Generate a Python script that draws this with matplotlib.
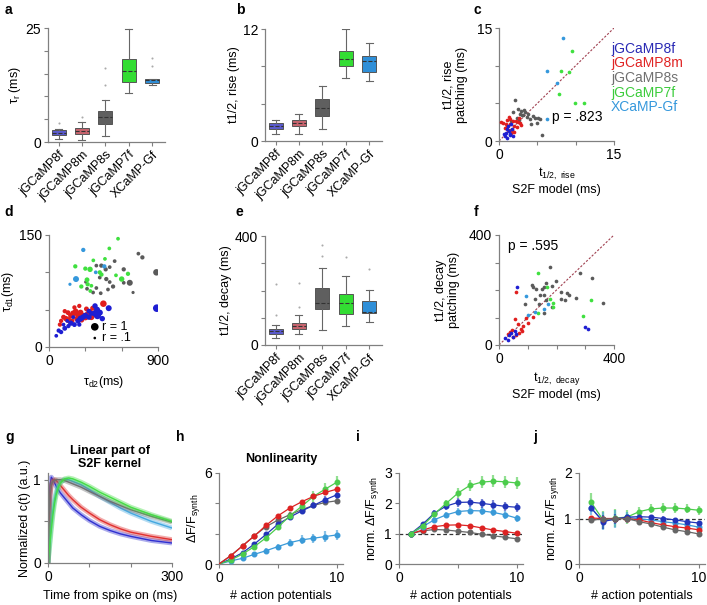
import numpy as np
import matplotlib.pyplot as plt

plt.rcParams['font.family'] = ['Liberation Sans', 'DejaVu Sans']
plt.rcParams['mathtext.fontset'] = 'custom'
plt.rcParams['mathtext.rm'] = 'Liberation Sans'
plt.rcParams['mathtext.it'] = 'Liberation Sans:italic'
plt.rcParams['font.size'] = 8

W, H = 707, 605

# ---------------- data ----------------
sensors = ['jGCaMP8f', 'jGCaMP8m', 'jGCaMP8s', 'jGCaMP7f', 'XCaMP-Gf']
box_colors = ['#5a5acd', '#c8646e', '#5f5f5f', '#33dd33', '#2f8fd8']
text_colors = ['#2a2ab4', '#e02424', '#707070', '#3ccc3c', '#3598dc']
dot_colors = ['#1e1ed2', '#e01e1e', '#5a5a5a', '#3fe03f', '#3598dc']

# a: tau_r (ms)
a_med = [2.0, 2.4, 5.5, 15.6, 13.5]
a_q1 = [1.5, 1.8, 3.9, 13.2, 12.9]
a_q3 = [2.6, 3.1, 6.8, 18.2, 13.8]
a_lo = [0.7, 0.5, 1.25, 10.7, 12.5]
a_hi = [2.9, 4.4, 9.3, 24.8, 13.8]
a_fliers = [[4.2], [5.5], [12.6, 16.2], [], [16.7, 18.4]]

# b: t1/2 rise (ms)
b_med = [1.6, 1.9, 3.55, 8.8, 8.55]
b_q1 = [1.25, 1.6, 2.7, 8.0, 7.4]
b_q3 = [1.9, 2.2, 4.45, 9.6, 9.15]
b_lo = [0.7, 0.7, 1.25, 6.8, 6.4]
b_hi = [2.3, 2.85, 5.9, 12.0, 10.5]
b_fliers = [[], [], [], [], []]

# e: t1/2 decay (ms)
e_med = [50, 70, 153, 153, 122]
e_q1 = [42, 60, 131, 114, 116]
e_q3 = [60, 80, 210, 187, 161]
e_lo = [25, 40, 55, 70, 85]
e_hi = [75, 110, 284, 253, 202]
e_fliers = [[223, 110], [229, 140], [327, 367], [324], [279]]

# c: t1/2 rise, S2F model (x) vs patching (y)
c_x = [
    [0.9, 1.8, 1.2, 1.0, 1.5, 0.8, 1.3, 1.1, 1.7, 1.4, 0.7, 1.6],
    [0.3, 0.5, 1.4, 2.6, 2.9, 2.3, 1.0, 1.2, 1.8, 2.0, 1.5, 0.8, 2.5, 1.1, 1.9, 1.6, 2.2, 1.3, 0.9, 2.7, 1.7],
    [2.05, 2.5, 2.9, 3.4, 3.8, 2.7, 4.0, 4.7, 5.1, 5.3, 4.2, 4.9, 5.65, 1.8, 2.3, 3.6, 3.1, 3.3, 4.4, 2.6, 3.0, 1.6],
    [9.5, 8.1, 9.1, 7.85, 9.9, 11.1],
    [8.4, 6.3, 7.6, 6.2],
]
c_y = [
    [1.1, 0.67, 2.0, 1.56, 0.9, 0.6, 1.3, 0.4, 1.6, 0.8, 0.9, 2.2],
    [2.5, 2.4, 2.9, 3.1, 2.1, 1.8, 2.0, 1.5, 2.6, 1.2, 2.3, 1.7, 2.5, 2.8, 2.0, 1.0, 2.7, 3.2, 2.2, 2.4, 1.4],
    [5.4, 4.2, 4.0, 3.8, 3.6, 3.6, 2.9, 3.0, 3.0, 2.9, 2.2, 2.4, 0.75, 3.8, 3.1, 3.2, 3.4, 4.1, 3.3, 2.8, 3.5, 2.6],
    [11.9, 9.3, 9.2, 6.2, 5.1, 5.0],
    [13.7, 9.3, 7.65, 2.9],
]

# d: tau_d2 (x), tau_d1 (y), r (size)
d_x = [
    [890, 493, 397, 330, 100, 130, 160, 180, 210, 240, 260, 280, 300, 330, 350, 380, 400, 420, 200, 150, 250, 120, 440, 380, 60, 80],
    [449, 391, 309, 157, 180, 200, 220, 240, 260, 280, 300, 320, 340, 120, 140, 160, 190, 230, 270, 100, 360, 350, 210, 250, 130, 90],
    [738, 771, 542, 617, 887, 501, 391, 432, 468, 419, 473, 501, 529, 487, 391, 364, 617, 667, 694, 427, 303, 314],
    [570, 498, 217, 300, 339, 366, 462, 419, 433, 553, 600, 652, 314, 319, 267, 350, 341],
    [283, 223, 173, 457, 386],
]
d_y = [
    [52, 52, 50, 48, 20, 25, 28, 32, 30, 35, 38, 40, 42, 40, 45, 45, 42, 46, 40, 35, 30, 30, 38, 55, 15, 22],
    [58, 50, 51, 46, 42, 45, 48, 44, 46, 42, 40, 44, 47, 40, 38, 36, 35, 38, 36, 35, 52, 40, 53, 55, 48, 30],
    [125, 120, 115, 104, 100, 107, 109, 109, 104, 93, 91, 87, 81, 77, 79, 73, 86, 86, 73, 72, 87, 78],
    [145, 132, 108, 105, 104, 116, 118, 100, 97, 96, 91, 98, 90, 84, 81, 82, 75],
    [130, 91, 84, 108, 100],
]
d_r = [
    [1.0, 0.7, 0.7, 0.5, 0.4, 0.5, 0.4, 0.6, 0.5, 0.6, 0.7, 0.6, 0.7, 0.6, 0.5, 0.8, 0.9, 0.7, 0.3, 0.3, 0.4, 0.3, 0.6, 0.6, 0.3, 0.4],
    [0.8, 0.6, 0.5, 0.5, 0.6, 0.7, 0.6, 0.8, 0.7, 0.6, 0.8, 0.7, 0.6, 0.5, 0.6, 0.7, 0.5, 0.6, 0.5, 0.4, 0.5, 0.7, 0.4, 0.4, 0.4, 0.4],
    [0.3, 0.4, 0.3, 0.4, 0.8, 0.3, 0.3, 0.4, 0.4, 0.3, 0.4, 0.3, 0.4, 0.3, 0.3, 0.3, 0.3, 0.7, 0.2, 0.3, 0.2, 0.3],
    [0.3, 0.3, 0.4, 0.4, 0.6, 0.3, 0.3, 0.4, 0.4, 0.3, 0.6, 0.4, 0.5, 0.4, 0.4, 0.3, 0.3],
    [0.4, 0.7, 0.2, 0.4, 0.3],
]

# f: t1/2 decay, S2F model (x) vs patching (y)
f_x = [
    [64, 20, 35, 50, 42, 60, 30, 55, 300, 310],
    [58, 55, 93, 119, 30, 45, 60, 75, 85, 40, 65, 100, 50, 80, 70],
    [179, 281, 324, 198, 163, 116, 119, 130, 148, 156, 183, 217, 235, 244, 267, 360, 214, 231, 90, 126, 142, 156, 163, 140, 156, 183],
    [136, 167, 320, 177, 188, 188, 134, 293],
    [93, 169, 157, 124, 100],
]
f_y = [
    [212, 25, 35, 30, 45, 40, 20, 50, 65, 60],
    [194, 93, 97, 103, 40, 55, 35, 60, 70, 48, 75, 80, 30, 52, 45],
    [284, 261, 242, 233, 224, 218, 210, 202, 202, 212, 215, 192, 190, 182, 170, 154, 166, 164, 149, 166, 182, 182, 164, 148, 115, 139],
    [261, 210, 164, 166, 154, 137, 118, 105],
    [178, 148, 130, 121, 110],
]

# g: linear part of S2F kernel
g_t = [0, 2, 5, 8, 12, 16, 20, 25, 30, 40, 50, 60, 80, 100, 125, 150, 175, 200, 250, 300]
g_vals = [
    [0, 0.55, 0.92, 1.03, 1.0, 0.96, 0.92, 0.88, 0.84, 0.78, 0.72, 0.66, 0.58, 0.51, 0.44, 0.39, 0.35, 0.32, 0.27, 0.24],
    [0, 0.4, 0.8, 0.93, 0.99, 1.0, 0.99, 0.96, 0.93, 0.87, 0.81, 0.76, 0.67, 0.6, 0.52, 0.46, 0.41, 0.37, 0.32, 0.28],
    [0, 0.5, 0.85, 0.95, 0.98, 0.99, 1.0, 1.0, 1.0, 0.99, 0.97, 0.95, 0.91, 0.86, 0.8, 0.74, 0.69, 0.64, 0.56, 0.49],
    [0, 0.1, 0.25, 0.4, 0.58, 0.72, 0.82, 0.91, 0.96, 1.01, 1.02, 1.01, 0.97, 0.92, 0.85, 0.79, 0.73, 0.67, 0.58, 0.5],
    [0, 0.12, 0.3, 0.47, 0.64, 0.77, 0.86, 0.93, 0.97, 1.0, 1.0, 0.98, 0.94, 0.88, 0.8, 0.73, 0.66, 0.6, 0.5, 0.42],
]
g_colors = ['#3030d0', '#e03030', '#707070', '#44dd44', '#44a8e0']

# h, i, j: number of APs
n_ap = [0, 1, 2, 3, 4, 5, 6, 7, 8, 9, 10]
n_ap1 = [1, 2, 3, 4, 5, 6, 7, 8, 9, 10]
line_colors = ['#2234b8', '#dd2222', '#666666', '#4ccc4c', '#3a9ad8']

h_vals = [
    [0, 0.33, 0.75, 1.32, 1.96, 2.63, 3.09, 3.5, 3.86, 4.24, 4.57],
    [0, 0.55, 1.2, 1.85, 2.56, 3.18, 3.69, 4.1, 4.46, 4.72, 4.94],
    [0, 0.55, 1.2, 1.87, 2.47, 2.9, 3.25, 3.58, 3.86, 4.06, 4.17],
    [0, 0.26, 0.66, 1.15, 1.74, 2.43, 3.18, 3.8, 4.46, 4.94, 5.4],
    [0, 0.2, 0.38, 0.64, 0.88, 1.15, 1.41, 1.59, 1.7, 1.81, 1.92],
]
h_err = [
    [0, 0.05, 0.08, 0.1, 0.12, 0.15, 0.18, 0.2, 0.2, 0.22, 0.25],
    [0, 0.04, 0.06, 0.08, 0.1, 0.12, 0.12, 0.14, 0.15, 0.15, 0.15],
    [0, 0.04, 0.06, 0.08, 0.1, 0.12, 0.15, 0.2, 0.18, 0.18, 0.15],
    [0, 0.05, 0.08, 0.1, 0.15, 0.2, 0.25, 0.35, 0.35, 0.4, 0.4],
    [0, 0.05, 0.08, 0.12, 0.15, 0.2, 0.25, 0.3, 0.3, 0.35, 0.35],
]

i_vals = [
    [1, 1.31, 1.68, 1.91, 2.03, 2.04, 2.0, 1.95, 1.9, 1.87],
    [1, 1.12, 1.23, 1.28, 1.29, 1.26, 1.19, 1.12, 1.07, 1.01],
    [1, 1.09, 1.14, 1.12, 1.08, 1.04, 0.98, 0.93, 0.88, 0.83],
    [1, 1.26, 1.65, 2.0, 2.34, 2.59, 2.7, 2.73, 2.71, 2.67],
    [1, 1.23, 1.46, 1.62, 1.73, 1.76, 1.75, 1.7, 1.62, 1.51],
]
i_err = [
    [0, 0.06, 0.1, 0.12, 0.14, 0.15, 0.15, 0.15, 0.15, 0.15],
    [0, 0.03, 0.04, 0.05, 0.05, 0.05, 0.05, 0.05, 0.05, 0.05],
    [0, 0.02, 0.03, 0.03, 0.03, 0.03, 0.03, 0.03, 0.03, 0.03],
    [0, 0.06, 0.1, 0.12, 0.15, 0.18, 0.2, 0.2, 0.2, 0.2],
    [0, 0.05, 0.08, 0.1, 0.12, 0.12, 0.12, 0.12, 0.12, 0.12],
]

j_vals = [
    [1.24, 0.93, 0.99, 1.03, 1.04, 1.03, 1.0, 0.97, 0.93, 0.9],
    [1.01, 1.0, 1.0, 1.0, 0.97, 0.91, 0.86, 0.82, 0.79, 0.75],
    [0.96, 0.99, 0.99, 1.0, 0.93, 0.88, 0.81, 0.75, 0.71, 0.66],
    [1.36, 0.97, 1.01, 1.03, 1.15, 1.21, 1.23, 1.23, 1.21, 1.18],
    [1.23, 0.94, 0.99, 1.03, 0.99, 0.97, 0.93, 0.9, 0.86, 0.81],
]
j_err = [
    [0.08, 0.15, 0.1, 0.06, 0.05, 0.05, 0.05, 0.05, 0.05, 0.05],
    [0.04, 0.03, 0.03, 0.03, 0.03, 0.03, 0.03, 0.03, 0.03, 0.03],
    [0.04, 0.03, 0.03, 0.03, 0.03, 0.03, 0.03, 0.03, 0.03, 0.03],
    [0.2, 0.2, 0.2, 0.15, 0.1, 0.1, 0.1, 0.1, 0.1, 0.1],
    [0.15, 0.2, 0.2, 0.12, 0.08, 0.08, 0.08, 0.08, 0.08, 0.08],
]

# ---------------- helpers ----------------
fig = plt.figure(figsize=(W / 100, H / 100), dpi=100)
AX_GRAY = '#808080'
LAB = 9


def px_axes(l, t, r, b):
    return fig.add_axes([l / W, 1 - b / H, (r - l) / W, (b - t) / H])


def style(ax):
    for s in ['top', 'right']:
        ax.spines[s].set_visible(False)
    for s in ['left', 'bottom']:
        ax.spines[s].set_color(AX_GRAY)
        ax.spines[s].set_linewidth(0.9)
    ax.tick_params(direction='out', length=3, width=0.8, color=AX_GRAY,
                   labelsize=10, pad=2)


def ticks(ax, axis, vals, labeled):
    labs = [str(v) if v in labeled else '' for v in vals]
    if axis == 'x':
        ax.set_xticks(vals)
        ax.set_xticklabels(labs)
    else:
        ax.set_yticks(vals)
        ax.set_yticklabels(labs)


def letter(x, y, s):
    fig.text(x / W, 1 - y / H, s, fontsize=10, fontweight='bold', va='center', ha='left')


def boxpanel(ax, med, q1, q3, lo, hi, fliers, ymax, yt, ylabel):
    stats = []
    for k in range(5):
        stats.append(dict(med=med[k], q1=q1[k], q3=q3[k], whislo=lo[k], whishi=hi[k], fliers=fliers[k]))
    bp = ax.bxp(stats, positions=[1, 2, 3, 4, 5], widths=0.6, patch_artist=True,
                boxprops=dict(edgecolor='#555555', linewidth=0.7),
                medianprops=dict(color='#333333', linewidth=0.8, linestyle='--'),
                whiskerprops=dict(color='#666666', linewidth=0.8),
                capprops=dict(color='#666666', linewidth=0.8),
                flierprops=dict(marker='o', markersize=1.5, markerfacecolor='#aaaaaa',
                                markeredgecolor='none'))
    for patch, col in zip(bp['boxes'], box_colors):
        patch.set_facecolor(col)
    style(ax)
    ax.set_xlim(0.55, 5.55)
    ax.set_ylim(0, ymax)
    ticks(ax, 'y', yt, [0, ymax])
    ax.set_xticks([1, 2, 3, 4, 5])
    ax.set_xticklabels(sensors, rotation=45, ha='right', rotation_mode='anchor', fontsize=9)
    ax.set_ylabel(ylabel, fontsize=LAB, labelpad=2)


# ---------------- a, b, e ----------------
ax_a = px_axes(48, 28, 165, 142)
boxpanel(ax_a, a_med, a_q1, a_q3, a_lo, a_hi, a_fliers, 25, [0, 5, 10, 15, 20, 25],
         'τ$_{\\mathregular{r}}$ (ms)')
ax_b = px_axes(265, 29, 382, 141)
boxpanel(ax_b, b_med, b_q1, b_q3, b_lo, b_hi, b_fliers, 12, [0, 4, 8, 12], 't1/2, rise (ms)')
ax_e = px_axes(265, 236, 382, 345)
boxpanel(ax_e, e_med, e_q1, e_q3, e_lo, e_hi, e_fliers, 400, [0, 100, 200, 300, 400],
         't1/2, decay (ms)')

# ---------------- c ----------------
ax_c = px_axes(499, 28, 614, 141)
style(ax_c)
ax_c.plot([0, 15], [0, 15], ls='--', color='#a04050', lw=0.8, dashes=(2, 1.5))
for k in [2, 3, 4, 1, 0]:
    ax_c.scatter(c_x[k], c_y[k], s=7, color=dot_colors[k], linewidths=0, zorder=3)
ax_c.set_xlim(0, 15)
ax_c.set_ylim(0, 15)
ticks(ax_c, 'x', [0, 5, 10, 15], [0, 15])
ticks(ax_c, 'y', [0, 5, 10, 15], [0, 15])
ax_c.set_ylabel('t1/2, rise\npatching (ms)', fontsize=LAB, labelpad=6)
ax_c.set_xlabel('t$_{\\mathregular{1/2,\\ rise}}$\nS2F model (ms)', fontsize=LAB, labelpad=3)
ax_c.text(6.9, 2.6, 'p = .823', fontsize=10)
for k in range(5):
    fig.text(611 / W, 1 - (49 + 14.5 * k) / H, sensors[k], color=text_colors[k],
             fontsize=10, va='center')

# ---------------- d ----------------
ax_d = px_axes(49, 235, 158, 347)
style(ax_d)
for k in [2, 3, 4, 1, 0]:
    sz = [(1.5 + 4.0 * r) ** 2 for r in d_r[k]]
    ax_d.scatter(d_x[k], d_y[k], s=sz, color=dot_colors[k], linewidths=0, zorder=3)
ax_d.set_xlim(0, 900)
ax_d.set_ylim(0, 150)
ticks(ax_d, 'x', [0, 300, 600, 900], [0, 900])
ticks(ax_d, 'y', [0, 50, 100, 150], [0, 150])
ax_d.set_ylabel('τ$_{\\mathregular{d1}}$(ms)', fontsize=LAB, labelpad=2)
ax_d.set_xlabel('τ$_{\\mathregular{d2}}$(ms)', fontsize=LAB, labelpad=4)
ax_d.scatter([0.42, 0.42], [0.18, 0.08], s=[(1.5 + 4.0) ** 2, (1.5 + 0.4) ** 2],
             color='black', linewidths=0, transform=ax_d.transAxes, clip_on=False)
ax_d.text(0.49, 0.18, 'r = 1', transform=ax_d.transAxes, fontsize=9, va='center')
ax_d.text(0.49, 0.08, 'r = .1', transform=ax_d.transAxes, fontsize=9, va='center')

# ---------------- f ----------------
ax_f = px_axes(499, 235, 614, 345)
style(ax_f)
ax_f.plot([0, 400], [0, 400], ls='--', color='#a04050', lw=0.8, dashes=(2, 1.5))
for k in [2, 3, 4, 1, 0]:
    ax_f.scatter(f_x[k], f_y[k], s=7, color=dot_colors[k], linewidths=0, zorder=3)
ax_f.set_xlim(0, 400)
ax_f.set_ylim(0, 400)
ticks(ax_f, 'x', [0, 100, 200, 300, 400], [0, 400])
ticks(ax_f, 'y', [0, 100, 200, 300, 400], [0, 400])
ax_f.set_ylabel('t1/2, decay\npatching (ms)', fontsize=LAB, labelpad=6)
ax_f.set_xlabel('t$_{\\mathregular{1/2,\\ decay}}$\nS2F model (ms)', fontsize=LAB, labelpad=3)
ax_f.text(30, 345, 'p = .595', fontsize=10)

# ---------------- g ----------------
ax_g = px_axes(48, 473, 172, 563)
style(ax_g)
for k in [0, 1, 4, 2, 3]:
    ax_g.plot(g_t, g_vals[k], color=g_colors[k], lw=3.5, alpha=0.4, solid_capstyle='butt')
    ax_g.plot(g_t, g_vals[k], color=g_colors[k], lw=1.0)
ax_g.set_xlim(0, 300)
ax_g.set_ylim(0, 1.08)
ticks(ax_g, 'x', [0, 100, 200, 300], [0, 300])
ax_g.set_yticks([0, 0.5, 1])
ax_g.set_yticklabels(['0', '', '1'])
ax_g.set_ylabel('Normalized c(t) (a.u.)', fontsize=LAB, labelpad=2)
ax_g.set_xlabel('Time from spike on (ms)', fontsize=LAB, labelpad=4)
ax_g.set_title('Linear part of\nS2F kernel', fontsize=9, fontweight='bold', pad=4)


def errpanel(ax, xs, vals, errs, order, markevery=None):
    for k in order:
        eb = ax.errorbar(xs, vals[k], yerr=errs[k], color=line_colors[k], lw=0.9,
                         marker='o', ms=3.3, elinewidth=1.6, capsize=0,
                         markevery=markevery, zorder=3)
        eb[2][0].set_alpha(0.6)
    style(ax)


# ---------------- h ----------------
ax_h = px_axes(219, 473, 343, 564)
errpanel(ax_h, n_ap, h_vals, h_err, [4, 2, 0, 3, 1], markevery=slice(1, None))
ax_h.set_xlim(0, 10.5)
ax_h.set_ylim(0, 6)
ticks(ax_h, 'x', [0, 5, 10], [0, 10])
ticks(ax_h, 'y', [0, 2, 4, 6], [0, 6])
ax_h.set_ylabel('ΔF/F$_{\\mathregular{synth}}$', fontsize=LAB, labelpad=2)
ax_h.set_xlabel('# action potentials', fontsize=LAB, labelpad=4)
ax_h.set_title('Nonlinearity', fontsize=9, fontweight='bold', pad=8)

# ---------------- i ----------------
ax_i = px_axes(399, 473, 523, 564)
ax_i.axhline(1, color='#333333', ls='--', lw=0.9, dashes=(3, 2), zorder=1)
errpanel(ax_i, n_ap1, i_vals, i_err, [2, 1, 4, 0, 3])
ax_i.set_xlim(0, 10.5)
ax_i.set_ylim(0, 3)
ticks(ax_i, 'x', [0, 5, 10], [0, 10])
ticks(ax_i, 'y', [0, 1, 2, 3], [0, 1, 2, 3])
ax_i.set_ylabel('norm. ΔF/F$_{\\mathregular{synth}}$', fontsize=LAB, labelpad=2)
ax_i.set_xlabel('# action potentials', fontsize=LAB, labelpad=4)

# ---------------- j ----------------
ax_j = px_axes(579, 473, 705, 564)
ax_j.axhline(1, color='#333333', ls='--', lw=0.9, dashes=(3, 2), zorder=1)
errpanel(ax_j, n_ap1, j_vals, j_err, [3, 4, 0, 1, 2])
ax_j.set_xlim(0, 10.5)
ax_j.set_ylim(0, 2)
ticks(ax_j, 'x', [0, 5, 10], [0, 10])
ticks(ax_j, 'y', [0, 1, 2], [0, 1, 2])
ax_j.set_ylabel('norm. ΔF/F$_{\\mathregular{synth}}$', fontsize=LAB, labelpad=2)
ax_j.set_xlabel('# action potentials', fontsize=LAB, labelpad=4)

# panel letters
for s, x, y in [('a', 5, 10), ('b', 236, 10), ('c', 474, 10),
                ('d', 4, 212), ('e', 236, 212), ('f', 474, 212),
                ('g', 5, 437), ('h', 176, 437), ('i', 356, 437), ('j', 533, 437)]:
    letter(x, y, s)

fig.savefig('out.png', dpi=100, facecolor='white')
